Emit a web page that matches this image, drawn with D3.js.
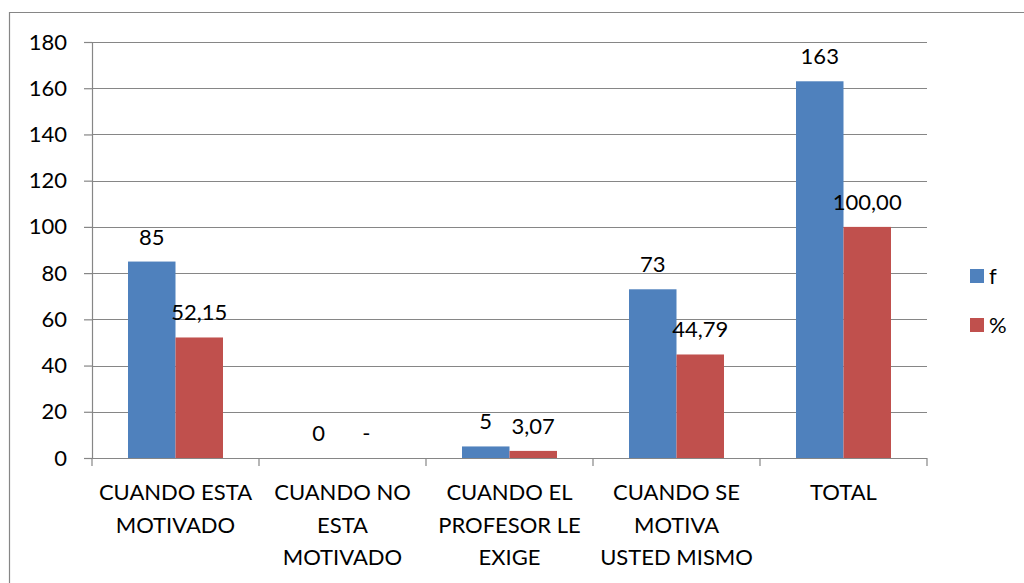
<!DOCTYPE html>
<html>
<head>
<meta charset="utf-8">
<script src="https://cdn.jsdelivr.net/npm/d3@7"></script>
<style>
  body { margin: 0; background: #fff; }
  svg { display: block; }
</style>
</head>
<body>
<div id="chart"></div>
<script>
const width = 1024;
const height = 583;
const margin = { top: 42, left: 92, right: 96, bottom: 125 };
const innerWidth = 927 - margin.left;
const innerHeight = 458 - margin.top;
const fontSize = 22;

// data
const categories = [
  ['CUANDO ESTA', 'MOTIVADO'],
  ['CUANDO NO', 'ESTA', 'MOTIVADO'],
  ['CUANDO EL', 'PROFESOR LE', 'EXIGE'],
  ['CUANDO SE', 'MOTIVA', 'USTED MISMO'],
  ['TOTAL']
];
const seriesNames = ['f', '%'];
const fValues = [85, 0, 5, 73, 163];
const pctValues = [52.15, 0, 3.07, 44.79, 100];
const fLabels = ['85', '0', '5', '73', '163'];
const pctLabels = ['52,15', '-', '3,07', '44,79', '100,00'];
const yTicks = [0, 20, 40, 60, 80, 100, 120, 140, 160, 180];

const colors = ['#4f81bd', '#c0504d'];
const gridColor = '#868686';

const svg = d3.select('#chart').append('svg')
  .attr('width', width)
  .attr('height', height)
  .attr('font-family', 'Lato, "Open Sans", sans-serif')
  .attr('font-size', fontSize);

// outer chart frame (runs off right and bottom edges)
svg.append('path')
  .attr('d', `M9.5,${height} V12.5 H${width}`)
  .attr('fill', 'none')
  .attr('stroke', gridColor)
  .attr('stroke-width', 1.2);

const g = svg.append('g')
  .attr('transform', `translate(${margin.left},${margin.top})`);

const x = d3.scaleBand()
  .domain(d3.range(categories.length))
  .range([0, innerWidth]);

const barW = 47.5;

const y = d3.scaleLinear()
  .domain([0, 180])
  .range([innerHeight, 0]);

// gridlines
g.selectAll('.grid')
  .data(yTicks.filter(d => d > 0))
  .enter().append('line')
  .attr('x1', 0).attr('x2', innerWidth)
  .attr('y1', d => Math.round(y(d)) + 0.5)
  .attr('y2', d => Math.round(y(d)) + 0.5)
  .attr('stroke', gridColor)
  .attr('stroke-width', 1.2);

// y axis
const yAxis = d3.axisLeft(y).tickValues(yTicks).tickSize(8).tickPadding(17);
const yAxisG = g.append('g').call(yAxis)
  .attr('font-family', null)
  .attr('font-size', null);
yAxisG.select('.domain').attr('stroke', gridColor).attr('stroke-width', 1.2);
yAxisG.selectAll('.tick line').attr('stroke', gridColor).attr('stroke-width', 1.2);
yAxisG.selectAll('.tick text').attr('fill', '#000');

// bars
const series = [fValues, pctValues];
const labels = [fLabels, pctLabels];
series.forEach((vals, s) => {
  g.selectAll(`.bar${s}`)
    .data(vals)
    .enter().append('rect')
    .attr('x', (d, i) => x(i) + x.bandwidth() / 2 - barW + s * barW)
    .attr('y', d => y(d))
    .attr('width', barW)
    .attr('height', d => innerHeight - y(d))
    .attr('fill', colors[s]);

  g.selectAll(`.lbl${s}`)
    .data(vals)
    .enter().append('text')
    .attr('x', (d, i) => x(i) + x.bandwidth() / 2 - barW / 2 + s * barW)
    .attr('y', d => y(d) - 17)
    .attr('text-anchor', 'middle')
    .text((d, i) => labels[s][i]);
});

// x axis
const xAxisG = g.append('g').attr('transform', `translate(0,${innerHeight})`);
xAxisG.append('line')
  .attr('x1', 0).attr('x2', innerWidth)
  .attr('y1', 0.5).attr('y2', 0.5)
  .attr('stroke', gridColor).attr('stroke-width', 1.2);
xAxisG.selectAll('.xtick')
  .data(d3.range(categories.length + 1))
  .enter().append('line')
  .attr('x1', i => i * x.step()).attr('x2', i => i * x.step())
  .attr('y1', 0).attr('y2', 8)
  .attr('stroke', gridColor).attr('stroke-width', 1.2);

const catText = xAxisG.selectAll('.cat')
  .data(categories)
  .enter().append('text')
  .attr('text-anchor', 'middle');
catText.selectAll('tspan')
  .data((d, i) => d.map(line => ({ line, i })))
  .enter().append('tspan')
  .attr('x', d => x(d.i) + x.bandwidth() / 2)
  .attr('y', (d, j) => 42 + j * 32.5)
  .text(d => d.line);

// legend
const legend = svg.append('g');
seriesNames.forEach((name, s) => {
  legend.append('rect')
    .attr('x', 970).attr('y', 269 + s * 49)
    .attr('width', 14).attr('height', 14)
    .attr('fill', colors[s]);
  legend.append('text')
    .attr('x', 989).attr('y', 284 + s * 49)
    .text(name);
});
</script>
</body>
</html>
